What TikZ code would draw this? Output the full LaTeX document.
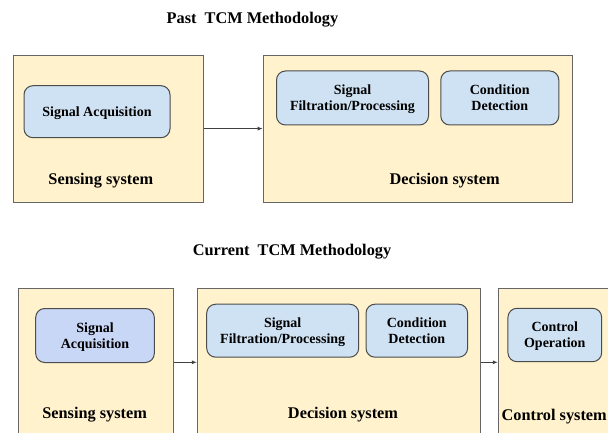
\documentclass[tikz,border=0pt]{standalone}
\usepackage{fontspec}
\setmainfont{Liberation Serif}
\usepackage{xcolor}
\usetikzlibrary{arrows.meta}

\definecolor{sysfill}{HTML}{FFF2CC}
\definecolor{stepfill}{HTML}{CFE2F3}
\definecolor{acqfill}{HTML}{C9D7F6}
\definecolor{edge}{HTML}{666666}

\tikzset{
  system/.style={draw=edge, line width=1pt, fill=sysfill, rectangle, inner sep=0pt},
  stepbox/.style={draw=black!70, line width=1pt, fill=stepfill, rounded corners=9pt,
    inner sep=0pt, align=center, text depth=0pt, font=\fontsize{14}{16.2}\selectfont\bfseries},
  syslabel/.style={font=\fontsize{16.3}{19}\selectfont\bfseries, inner sep=0pt},
  flow/.style={-{Latex[length=5pt,width=4pt]}, line width=0.9pt, draw=black!75}
}

\begin{document}
\begin{tikzpicture}[x=1pt, y=-1pt]
    \useasboundingbox (0,0) rectangle (608,433);
    \clip (0,0) rectangle (608,433);
    % past
    \node[syslabel] (past title) at (252.5,20) {Past~ TCM Methodology};
    \node[system, minimum width=190pt, minimum height=147pt] (past sensing) at (108.4,128.6) {};
    \node[system, minimum width=309pt, minimum height=147pt] (past decision) at (417.7,128.6) {};
    \node[stepbox, minimum width=146pt, minimum height=52pt] (past acq) at (97,111.7) {Signal Acquisition};
    \node[stepbox, minimum width=152pt, minimum height=54pt] (past filt) at (352.5,98) {Signal\\Filtration/Processing};
    \node[stepbox, minimum width=118pt, minimum height=54pt] (past cond) at (499.8,98) {Condition\\Detection};
    \node[syslabel] (past sensing label) at (100.8,181) {Sensing system};
    \node[syslabel] (past decision label) at (444.6,181) {Decision system};
    \draw[flow] (past sensing) -- (past decision);
    % current
    \node[syslabel] (cur title) at (292,252) {Current~ TCM Methodology};
    \node[system, minimum width=155.5pt, minimum height=148pt] (cur sensing) at (96,362.3) {};
    \node[system, minimum width=283.4pt, minimum height=148pt] (cur decision) at (339.1,362.3) {};
    \node[system, minimum width=140pt, minimum height=148pt] (cur control) at (568.3,362.3) {};
    \node[stepbox, fill=acqfill, minimum width=118.6pt, minimum height=54pt] (cur acq) at (95,335.5) {Signal\\Acquisition};
    \node[stepbox, minimum width=152pt, minimum height=53pt] (cur filt) at (282.7,330.7) {Signal\\Filtration/Processing};
    \node[stepbox, minimum width=101.6pt, minimum height=53pt] (cur cond) at (416.8,330.7) {Condition\\Detection};
    \node[stepbox, minimum width=93.7pt, minimum height=53.4pt] (cur ctrl) at (554.8,335) {Control\\Operation};
    \node[syslabel] (cur sensing label) at (94.6,414.5) {Sensing system};
    \node[syslabel] (cur decision label) at (343,414.5) {Decision system};
    \node[syslabel] (cur control label) at (554.2,417) {Control system};
    \draw[flow] (cur sensing) -- (cur decision);
    \draw[flow] (cur decision) -- (cur control);
\end{tikzpicture}
\end{document}
